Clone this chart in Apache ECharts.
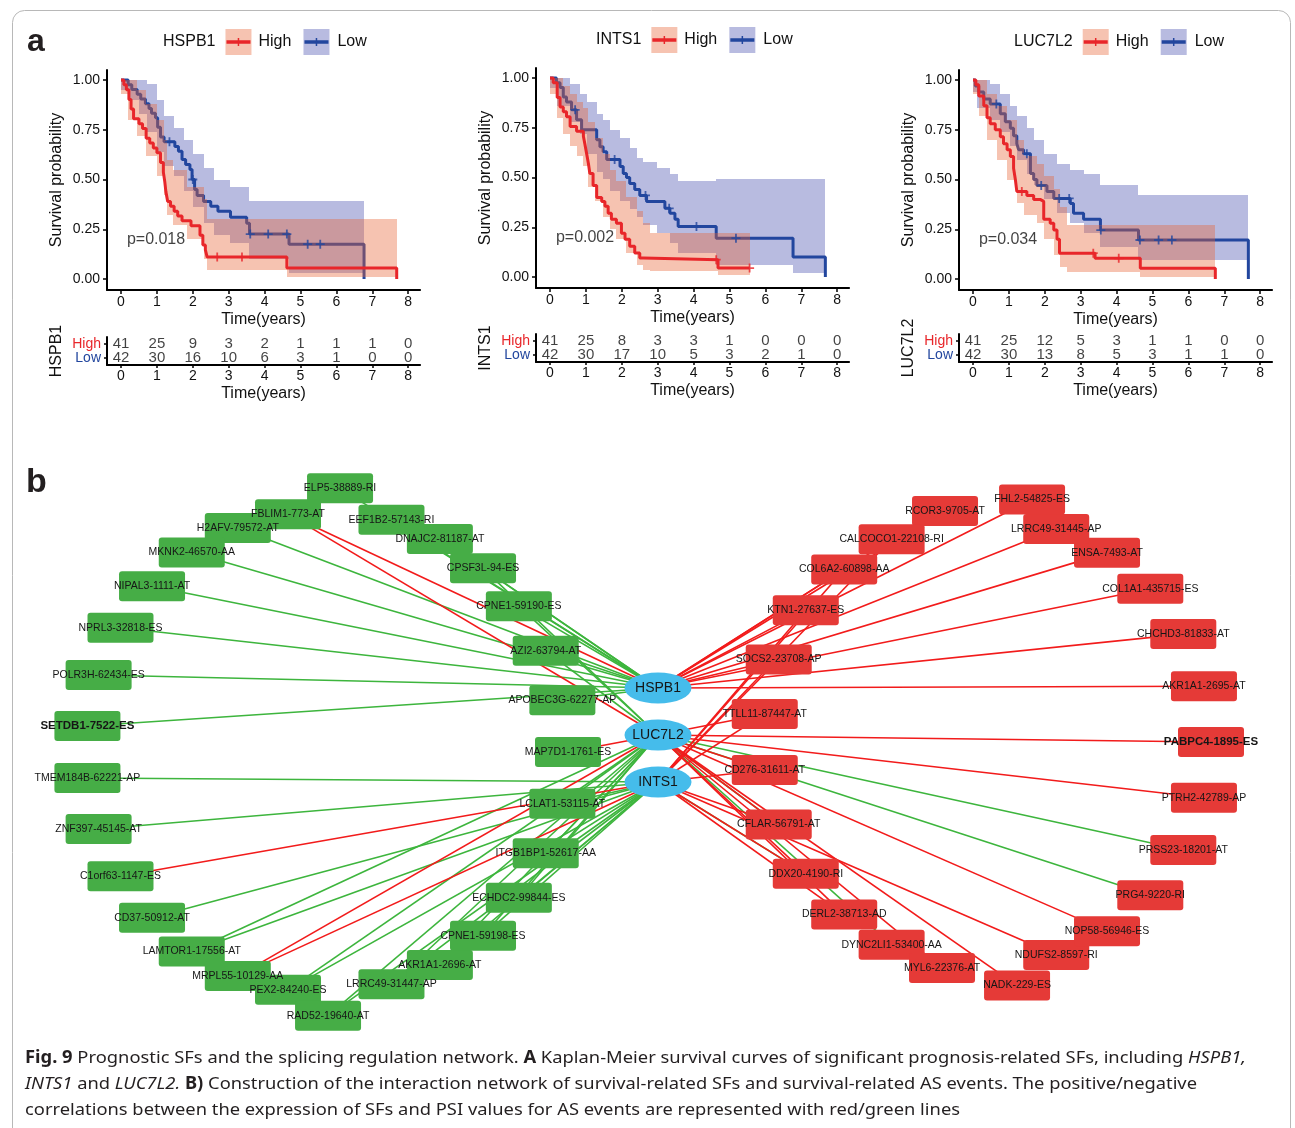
<!DOCTYPE html>
<html><head><meta charset="utf-8">
<script src="https://cdn.jsdelivr.net/npm/echarts@6/dist/echarts.min.js"></script>
<style>html,body{margin:0;padding:0;background:#fff}#c{width:1295px;height:1128px}</style>
</head><body><div id="c"></div>
<script>
// ================= DATA =================
// ---- Panel a : Kaplan-Meier curves ----
const genes = ['HSPB1', 'INTS1', 'LUC7L2'];
const pValues = ['p=0.018', 'p=0.002', 'p=0.034'];
const riskTimes = [0, 1, 2, 3, 4, 5, 6, 7, 8];
const survTicks = [0, 0.25, 0.5, 0.75, 1];

const hspb1RiskHigh = [41, 25, 9, 3, 2, 1, 1, 1, 0];
const hspb1RiskLow = [42, 30, 16, 10, 6, 3, 1, 0, 0];
const ints1RiskHigh = [41, 25, 8, 3, 3, 1, 0, 0, 0];
const ints1RiskLow = [42, 30, 17, 10, 5, 3, 2, 1, 0];
const luc7l2RiskHigh = [41, 25, 12, 5, 3, 1, 1, 0, 0];
const luc7l2RiskLow = [42, 30, 13, 8, 5, 3, 1, 1, 0];

// step curves: event times and survival after each time
const hspb1HighT = [0, 0.08, 0.15, 0.22, 0.28, 0.35, 0.5, 0.6, 0.7, 0.8, 0.9, 1.0, 1.1, 1.18, 1.22, 1.25, 1.3, 1.38, 1.48, 1.58, 1.7, 1.95, 2.2, 2.28, 2.35, 2.4, 4.62, 7.68];
const hspb1HighS = [1, 0.976, 0.951, 0.902, 0.854, 0.805, 0.78, 0.756, 0.707, 0.683, 0.658, 0.634, 0.585, 0.537, 0.488, 0.439, 0.39, 0.366, 0.341, 0.317, 0.293, 0.268, 0.22, 0.171, 0.146, 0.11, 0.055, 0];
const hspb1LowT = [0, 0.2, 0.3, 0.45, 0.55, 0.68, 0.78, 0.85, 0.96, 1.02, 1.1, 1.2, 1.5, 1.6, 1.7, 1.8, 1.92, 1.98, 2.05, 2.12, 2.3, 2.5, 2.7, 3.05, 3.5, 3.58, 4.68, 6.77];
const hspb1LowS = [1, 0.976, 0.952, 0.929, 0.905, 0.881, 0.857, 0.833, 0.81, 0.762, 0.714, 0.69, 0.666, 0.642, 0.6, 0.575, 0.55, 0.5, 0.45, 0.42, 0.39, 0.365, 0.34, 0.31, 0.28, 0.226, 0.175, 0];
const hspb1HighCensor = [2.68, 3.37];
const hspb1LowCensor = [1.35, 2.0, 3.6, 4.1, 4.62, 5.2, 5.55];

const ints1HighT = [0, 0.09, 0.2, 0.28, 0.37, 0.46, 0.56, 0.74, 0.93, 0.97, 1.02, 1.07, 1.11, 1.2, 1.3, 1.44, 1.53, 1.62, 1.71, 1.85, 1.99, 2.09, 2.22, 2.36, 2.5, 2.6, 4.68, 5.56];
const ints1HighS = [1, 0.976, 0.902, 0.854, 0.83, 0.805, 0.756, 0.732, 0.707, 0.67, 0.62, 0.57, 0.52, 0.46, 0.4, 0.38, 0.355, 0.32, 0.29, 0.27, 0.22, 0.19, 0.155, 0.12, 0.095, 0.087, 0.045, 0.045];
const ints1LowT = [0, 0.18, 0.28, 0.37, 0.46, 0.6, 0.74, 0.88, 1.3, 1.39, 1.48, 1.58, 1.95, 2.04, 2.13, 2.22, 2.36, 2.5, 2.69, 3.2, 3.34, 3.48, 3.57, 4.63, 6.77, 7.67];
const ints1LowS = [1, 0.976, 0.952, 0.905, 0.88, 0.84, 0.79, 0.74, 0.69, 0.655, 0.63, 0.59, 0.555, 0.52, 0.5, 0.47, 0.44, 0.41, 0.38, 0.345, 0.32, 0.29, 0.254, 0.195, 0.1, 0];
const ints1HighCensor = [4.63, 5.56];
const ints1LowCensor = [0.7, 1.8, 2.66, 3.32, 4.08, 5.18];

const luc7l2HighT = [0, 0.08, 0.16, 0.3, 0.39, 0.48, 0.62, 0.76, 0.85, 0.95, 1.04, 1.13, 1.18, 1.22, 1.5, 1.69, 1.87, 1.97, 2.15, 2.25, 2.34, 2.41, 3.4, 4.66, 6.75];
const luc7l2HighS = [1, 0.976, 0.92, 0.87, 0.81, 0.78, 0.75, 0.715, 0.68, 0.65, 0.615, 0.556, 0.5, 0.44, 0.42, 0.4, 0.39, 0.3, 0.28, 0.246, 0.2, 0.13, 0.104, 0.054, 0];
const luc7l2LowT = [0, 0.065, 0.16, 0.3, 0.48, 0.76, 0.9, 1.04, 1.13, 1.22, 1.27, 1.41, 1.6, 1.69, 1.78, 2.06, 2.25, 2.71, 2.8, 3.08, 3.55, 4.61, 7.67];
const luc7l2LowS = [1, 0.97, 0.94, 0.905, 0.88, 0.83, 0.79, 0.757, 0.72, 0.68, 0.65, 0.63, 0.53, 0.5, 0.47, 0.44, 0.405, 0.38, 0.33, 0.3, 0.246, 0.196, 0];
const luc7l2HighCensor = [1.36, 3.35, 4.06];
const luc7l2LowCensor = [0.65, 1.5, 1.9, 2.4, 2.68, 3.56, 4.65, 5.17, 5.54];

// confidence bands: interval bounds T, and lower/upper value on each interval
const hspb1HighBandT = [0, 0.2, 0.45, 0.7, 1.0, 1.2, 1.28, 1.45, 1.85, 2.3, 2.4, 4.62, 7.68];
const hspb1HighBandLo = [0.93, 0.8, 0.72, 0.62, 0.52, 0.42, 0.32, 0.27, 0.2, 0.1, 0.045, 0.01];
const hspb1HighBandHi = [1, 1, 0.95, 0.88, 0.8, 0.7, 0.6, 0.55, 0.46, 0.4, 0.3, 0.3];
const hspb1LowBandT = [0, 0.25, 0.5, 0.72, 1.0, 1.2, 1.47, 1.75, 2.0, 2.3, 2.6, 3.05, 3.56, 4.68, 6.77];
const hspb1LowBandLo = [0.95, 0.9, 0.83, 0.74, 0.64, 0.57, 0.52, 0.44, 0.36, 0.28, 0.22, 0.18, 0.1, 0.03];
const hspb1LowBandHi = [1, 1, 1, 0.98, 0.9, 0.82, 0.76, 0.7, 0.63, 0.56, 0.5, 0.46, 0.39, 0.39];

const ints1HighBandT = [0, 0.2, 0.37, 0.56, 0.74, 0.93, 1.05, 1.25, 1.48, 1.67, 1.85, 2.13, 2.41, 2.6, 2.78, 4.68, 5.56];
const ints1HighBandLo = [0.92, 0.8, 0.72, 0.66, 0.61, 0.56, 0.45, 0.38, 0.3, 0.24, 0.19, 0.12, 0.06, 0.035, 0.03, 0.012];
const ints1HighBandHi = [1, 1, 0.96, 0.92, 0.88, 0.85, 0.78, 0.7, 0.62, 0.54, 0.48, 0.4, 0.33, 0.27, 0.22, 0.22];
const ints1LowBandT = [0, 0.19, 0.56, 0.83, 1.02, 1.3, 1.48, 1.67, 1.95, 2.22, 2.41, 2.6, 2.97, 3.34, 3.57, 4.63, 6.77, 7.67];
const ints1LowBandLo = [0.95, 0.86, 0.78, 0.72, 0.62, 0.53, 0.49, 0.43, 0.38, 0.34, 0.3, 0.26, 0.22, 0.17, 0.12, 0.06, 0.02];
const ints1LowBandHi = [1, 1, 0.97, 0.92, 0.88, 0.82, 0.79, 0.74, 0.7, 0.65, 0.6, 0.58, 0.55, 0.52, 0.48, 0.49, 0.49];

const luc7l2HighBandT = [0, 0.16, 0.39, 0.67, 0.95, 1.23, 1.41, 1.78, 1.97, 2.25, 2.43, 2.62, 4.66, 6.75];
const luc7l2HighBandLo = [0.93, 0.82, 0.7, 0.6, 0.5, 0.38, 0.32, 0.28, 0.2, 0.12, 0.06, 0.035, 0.01];
const luc7l2HighBandHi = [1, 1, 0.93, 0.87, 0.8, 0.7, 0.62, 0.58, 0.52, 0.45, 0.36, 0.27, 0.27];
const luc7l2LowBandT = [0, 0.11, 0.48, 0.76, 1.04, 1.23, 1.5, 1.69, 1.97, 2.34, 2.71, 3.08, 3.55, 4.61, 7.67];
const luc7l2LowBandLo = [0.94, 0.86, 0.8, 0.74, 0.67, 0.6, 0.53, 0.47, 0.4, 0.33, 0.28, 0.23, 0.16, 0.095];
const luc7l2LowBandHi = [1, 1, 0.98, 0.93, 0.87, 0.82, 0.76, 0.7, 0.63, 0.58, 0.55, 0.53, 0.47, 0.42];

// ---- Panel b : splicing regulation network ----
const hubNodes = ['HSPB1', 'LUC7L2', 'INTS1'];
const negEvents = ['MAP7D1-1761-ES', 'APOBEC3G-62277-AP', 'AZI2-63794-AT', 'CPNE1-59190-ES', 'CPSF3L-94-ES', 'DNAJC2-81187-AT', 'EEF1B2-57143-RI', 'ELP5-38889-RI', 'FBLIM1-773-AT', 'H2AFV-79572-AT', 'MKNK2-46570-AA', 'NIPAL3-1111-AT', 'NPRL3-32818-ES', 'POLR3H-62434-ES', 'SETDB1-7522-ES', 'TMEM184B-62221-AP', 'ZNF397-45145-AT', 'C1orf63-1147-ES', 'CD37-50912-AT', 'LAMTOR1-17556-AT', 'MRPL55-10129-AA', 'PEX2-84240-ES', 'RAD52-19640-AT', 'LRRC49-31447-AP', 'AKR1A1-2696-AT', 'CPNE1-59198-ES', 'ECHDC2-99844-ES', 'ITGB1BP1-52617-AA', 'LCLAT1-53115-AT'];
const posEvents = ['PABPC4-1895-ES', 'AKR1A1-2695-AT', 'CHCHD3-81833-AT', 'COL1A1-435715-ES', 'ENSA-7493-AT', 'LRRC49-31445-AP', 'FHL2-54825-ES', 'RCOR3-9705-AT', 'CALCOCO1-22108-RI', 'COL6A2-60898-AA', 'KTN1-27637-ES', 'SOCS2-23708-AP', 'TTLL11-87447-AT', 'CD276-31611-AT', 'CFLAR-56791-AT', 'DDX20-4190-RI', 'DERL2-38713-AD', 'DYNC2LI1-53400-AA', 'MYL6-22376-AT', 'NADK-229-ES', 'NDUFS2-8597-RI', 'NOP58-56946-ES', 'PRG4-9220-RI', 'PRSS23-18201-AT', 'PTRH2-42789-AP'];
const boldEvents = ['SETDB1-7522-ES', 'PABPC4-1895-ES'];

const negLinks = [
  ['HSPB1', 'ELP5-38889-RI'], ['HSPB1', 'EEF1B2-57143-RI'], ['HSPB1', 'DNAJC2-81187-AT'], ['HSPB1', 'CPSF3L-94-ES'], ['HSPB1', 'CPNE1-59190-ES'], ['HSPB1', 'AZI2-63794-AT'], ['HSPB1', 'APOBEC3G-62277-AP'], ['HSPB1', 'H2AFV-79572-AT'], ['HSPB1', 'MKNK2-46570-AA'], ['HSPB1', 'NIPAL3-1111-AT'], ['HSPB1', 'NPRL3-32818-ES'], ['HSPB1', 'POLR3H-62434-ES'], ['HSPB1', 'SETDB1-7522-ES'],
  ['LUC7L2', 'CPSF3L-94-ES'], ['LUC7L2', 'CPNE1-59190-ES'], ['LUC7L2', 'AZI2-63794-AT'], ['LUC7L2', 'LAMTOR1-17556-AT'], ['LUC7L2', 'PEX2-84240-ES'], ['LUC7L2', 'RAD52-19640-AT'], ['LUC7L2', 'LRRC49-31447-AP'], ['LUC7L2', 'AKR1A1-2696-AT'], ['LUC7L2', 'CPNE1-59198-ES'], ['LUC7L2', 'ECHDC2-99844-ES'], ['LUC7L2', 'ITGB1BP1-52617-AA'], ['LUC7L2', 'LCLAT1-53115-AT'], ['LUC7L2', 'PRSS23-18201-AT'], ['LUC7L2', 'PRG4-9220-RI'], ['LUC7L2', 'DYNC2LI1-53400-AA'], ['LUC7L2', 'CFLAR-56791-AT'],
  ['INTS1', 'TMEM184B-62221-AP'], ['INTS1', 'ZNF397-45145-AT'], ['INTS1', 'CD37-50912-AT'], ['INTS1', 'LAMTOR1-17556-AT'], ['INTS1', 'PEX2-84240-ES'], ['INTS1', 'RAD52-19640-AT'], ['INTS1', 'LRRC49-31447-AP'], ['INTS1', 'AKR1A1-2696-AT'], ['INTS1', 'CPNE1-59198-ES'], ['INTS1', 'ECHDC2-99844-ES'], ['INTS1', 'ITGB1BP1-52617-AA'], ['INTS1', 'LCLAT1-53115-AT'], ['INTS1', 'DDX20-4190-RI']
];
const posLinks = [
  ['HSPB1', 'FBLIM1-773-AT'], ['HSPB1', 'RCOR3-9705-AT'], ['HSPB1', 'CALCOCO1-22108-RI'], ['HSPB1', 'COL6A2-60898-AA'], ['HSPB1', 'KTN1-27637-ES'], ['HSPB1', 'SOCS2-23708-AP'], ['HSPB1', 'FHL2-54825-ES'], ['HSPB1', 'LRRC49-31445-AP'], ['HSPB1', 'ENSA-7493-AT'], ['HSPB1', 'COL1A1-435715-ES'], ['HSPB1', 'CHCHD3-81833-AT'], ['HSPB1', 'AKR1A1-2695-AT'],
  ['LUC7L2', 'FBLIM1-773-AT'], ['LUC7L2', 'MAP7D1-1761-ES'], ['LUC7L2', 'MRPL55-10129-AA'], ['LUC7L2', 'PABPC4-1895-ES'], ['LUC7L2', 'PTRH2-42789-AP'], ['LUC7L2', 'NOP58-56946-ES'], ['LUC7L2', 'NADK-229-ES'], ['LUC7L2', 'CFLAR-56791-AT'], ['LUC7L2', 'DDX20-4190-RI'], ['LUC7L2', 'DERL2-38713-AD'], ['LUC7L2', 'MYL6-22376-AT'], ['LUC7L2', 'CD276-31611-AT'], ['LUC7L2', 'TTLL11-87447-AT'],
  ['INTS1', 'C1orf63-1147-ES'], ['INTS1', 'MRPL55-10129-AA'], ['INTS1', 'KTN1-27637-ES'], ['INTS1', 'COL6A2-60898-AA'], ['INTS1', 'SOCS2-23708-AP'], ['INTS1', 'TTLL11-87447-AT'], ['INTS1', 'NDUFS2-8597-RI'], ['INTS1', 'CD276-31611-AT'], ['INTS1', 'CFLAR-56791-AT'], ['INTS1', 'DDX20-4190-RI'], ['INTS1', 'DERL2-38713-AD'], ['INTS1', 'CALCOCO1-22108-RI']
];

// ---- Caption ----
const captionLines = [
  [['b', 'Fig. 9'], ['n', ' Prognostic SFs and the splicing regulation network. '], ['b', 'A'], ['n', ' Kaplan-Meier survival curves of significant prognosis-related SFs, including '], ['i', 'HSPB1,']],
  [['i', 'INTS1'], ['n', ' and '], ['i', 'LUC7L2.'], ['n', ' '], ['b', 'B)'], ['n', ' Construction of the interaction network of survival-related SFs and survival-related AS events. The positive/negative']],
  [['n', 'correlations between the expression of SFs and PSI values for AS events are represented with red/green lines']]
];

// ================= STYLE / LAYOUT =================
const FONT = "'Liberation Sans', Arial, Helvetica, sans-serif";
const CAP_FONT = "'Noto Sans', 'Open Sans', sans-serif";
const RED = '#e8262a';
const BLUE = '#22469e';
const HIGH_FILL = 'rgba(232,96,50,0.38)';
const LOW_FILL = 'rgba(40,50,160,0.33)';
const TXT = '#111';
const PXY = 35.9, PXS = 199;
const panelX0 = [121, 550, 973];
const panelY1 = [80, 78, 80];
const tableAxisY = [365, 362, 362];
const legendLeft = [163, 596, 1014];
const legendY = [42, 40, 42];
const captionY = [1058, 1084, 1110];
const captionRight = [1246, 1197, 960];
const PLUS = 'path://M4,0H6V4H10V6H6V10H4V6H0V4H4Z';
const ELLIPSE = 'path://M0,15A33,15 0 1,1 66,15A33,15 0 1,1 0,15Z';
const BOX = 'path://M3,0H63Q66,0 66,3V27Q66,30 63,30H3Q0,30 0,27V3Q0,0 3,0Z';
// circular layout of the two event rings (centre, radius) plus small manual nudges of crowded nodes
const LEFT_RING = {c: [327, 752], r: 241};
const RIGHT_RING = {c: [987, 742], r: 224};
const HUB_POS = {x: 658, y0: 688, dy: 47};
const nodeNudge = {'ELP5-38889-RI': [0, -23], 'RAD52-19640-AT': [-12, 23], 'FHL2-54825-ES': [31, -19],
                   'NADK-229-ES': [16, 20], 'RCOR3-9705-AT': [0, -11], 'MYL6-22376-AT': [-3, 6]};

const km = [
  {hT: hspb1HighT, hS: hspb1HighS, lT: hspb1LowT, lS: hspb1LowS, hC: hspb1HighCensor, lC: hspb1LowCensor,
   hbT: hspb1HighBandT, hbLo: hspb1HighBandLo, hbHi: hspb1HighBandHi, lbT: hspb1LowBandT, lbLo: hspb1LowBandLo, lbHi: hspb1LowBandHi,
   rH: hspb1RiskHigh, rL: hspb1RiskLow},
  {hT: ints1HighT, hS: ints1HighS, lT: ints1LowT, lS: ints1LowS, hC: ints1HighCensor, lC: ints1LowCensor,
   hbT: ints1HighBandT, hbLo: ints1HighBandLo, hbHi: ints1HighBandHi, lbT: ints1LowBandT, lbLo: ints1LowBandLo, lbHi: ints1LowBandHi,
   rH: ints1RiskHigh, rL: ints1RiskLow},
  {hT: luc7l2HighT, hS: luc7l2HighS, lT: luc7l2LowT, lS: luc7l2LowS, hC: luc7l2HighCensor, lC: luc7l2LowCensor,
   hbT: luc7l2HighBandT, hbLo: luc7l2HighBandLo, hbHi: luc7l2HighBandHi, lbT: luc7l2LowBandT, lbLo: luc7l2LowBandLo, lbHi: luc7l2LowBandHi,
   rH: luc7l2RiskHigh, rL: luc7l2RiskLow}
];

// ================= HELPERS =================
const mctx = document.createElement('canvas').getContext('2d');
function textW(str, font) { mctx.font = font; return mctx.measureText(str).width; }
function stepAt(T, S, t) { let v = S[0]; for (let i = 0; i < T.length; i++) if (T[i] <= t) v = S[i]; return v; }
function pairs(T, S) { return T.map((t, i) => [t, S[i]]); }
function intervals(T, Lo, Hi) { return Lo.map((l, i) => [T[i], T[i + 1], l, Hi[i]]); }
function bandRenderer(fill) {
  return function (params, api) {
    const p0 = api.coord([api.value(0), api.value(3)]);
    const p1 = api.coord([api.value(1), api.value(2)]);
    const x0 = Math.round(p0[0]), x1 = Math.round(p1[0]);
    const y0 = Math.round(p0[1]), y1 = Math.round(p1[1]);
    return {type: 'rect', shape: {x: x0, y: y0, width: x1 - x0, height: y1 - y0}, style: {fill: fill}};
  };
}
// evenly spaced positions on a circle, starting at its rightmost point, counter-clockwise
function ringPos(names, ring) {
  return names.map((nm, k) => {
    const a = k * 2 * Math.PI / names.length;
    const nud = nodeNudge[nm] || [0, 0];
    return [ring.c[0] + ring.r * Math.cos(a) + nud[0], ring.c[1] - ring.r * Math.sin(a) + nud[1]];
  });
}
const axisLineStyle = {show: true, onZero: false, lineStyle: {color: '#000', width: 2}};
const tickStyle = {color: '#000', width: 1.5};
const nameStyle = {fontSize: 16, color: TXT, fontFamily: FONT};

// ================= BUILD =================
const grid = [], xAxis = [], yAxis = [], series = [], graphic = [];

for (let i = 0; i < 3; i++) {
  const x0 = panelX0[i], y1 = panelY1[i];
  grid.push({left: x0 - 0.39 * PXY, top: y1 - 0.0503 * PXS, width: 8.72 * PXY, height: 1.1056 * PXS});
  xAxis.push({gridIndex: i, type: 'value', min: -0.39, max: 8.33,
    axisLine: axisLineStyle, splitLine: {show: false},
    axisTick: {show: true, customValues: riskTimes, length: 4, lineStyle: tickStyle},
    axisLabel: {customValues: riskTimes, margin: 5, fontSize: 14, color: TXT, fontFamily: FONT},
    name: 'Time(years)', nameLocation: 'middle', nameGap: 22, nameTextStyle: nameStyle});
  yAxis.push({gridIndex: i, type: 'value', min: -0.0553, max: 1.0503,
    axisLine: axisLineStyle, splitLine: {show: false},
    axisTick: {show: true, customValues: survTicks, length: 4, lineStyle: tickStyle},
    axisLabel: {customValues: survTicks, formatter: v => Number(v).toFixed(2), margin: 7, fontSize: 14, color: TXT, fontFamily: FONT},
    name: 'Survival probability', nameLocation: 'middle', nameGap: 42, nameTextStyle: nameStyle});
}
for (let i = 0; i < 3; i++) {
  const x0 = panelX0[i];
  grid.push({left: x0 - 0.39 * PXY, top: tableAxisY[i] - 28, width: 8.72 * PXY, height: 28});
  xAxis.push({gridIndex: 3 + i, type: 'value', min: -0.39, max: 8.33,
    axisLine: axisLineStyle, splitLine: {show: false},
    axisTick: {show: true, customValues: riskTimes, length: 3, lineStyle: tickStyle},
    axisLabel: {customValues: riskTimes, margin: 4, fontSize: 14, color: TXT, fontFamily: FONT},
    name: 'Time(years)', nameLocation: 'middle', nameGap: 21, nameTextStyle: nameStyle});
  yAxis.push({gridIndex: 3 + i, type: 'category', data: ['Low', 'High'],
    axisLine: {show: true, onZero: false, lineStyle: {color: '#000', width: 2}},
    axisTick: {show: true, alignWithLabel: true, interval: 0, length: 3, lineStyle: tickStyle},
    axisLabel: {interval: 0, hideOverlap: false, margin: 6, formatter: v => '{' + v + '|' + v + '}',
      rich: {High: {color: RED, fontSize: 14, fontFamily: FONT}, Low: {color: BLUE, fontSize: 14, fontFamily: FONT}}},
    name: genes[i], nameLocation: 'middle', nameGap: 42, nameTextStyle: nameStyle});
}
// network coordinate grid (pixel-like units)
grid.push({left: 0, top: 0, width: 1295, height: 1128});
xAxis.push({gridIndex: 6, type: 'value', min: 0, max: 1295, show: false});
yAxis.push({gridIndex: 6, type: 'value', min: 0, max: 1128, inverse: true, show: false});

// KM series
for (let i = 0; i < 3; i++) {
  const d = km[i];
  series.push({type: 'custom', xAxisIndex: i, yAxisIndex: i, z: 1, silent: true,
    renderItem: bandRenderer(LOW_FILL), encode: {x: [0, 1], y: [2, 3]}, data: intervals(d.lbT, d.lbLo, d.lbHi)});
  series.push({type: 'line', xAxisIndex: i, yAxisIndex: i, z: 2, silent: true, step: 'end', symbol: 'none',
    lineStyle: {color: BLUE, width: 3}, data: pairs(d.lT, d.lS)});
  series.push({type: 'custom', xAxisIndex: i, yAxisIndex: i, z: 3, silent: true,
    renderItem: bandRenderer(HIGH_FILL), encode: {x: [0, 1], y: [2, 3]}, data: intervals(d.hbT, d.hbLo, d.hbHi)});
  series.push({type: 'line', xAxisIndex: i, yAxisIndex: i, z: 4, silent: true, step: 'end', symbol: 'none',
    lineStyle: {color: RED, width: 3}, data: pairs(d.hT, d.hS)});
  series.push({type: 'scatter', xAxisIndex: i, yAxisIndex: i, z: 5, silent: true, symbol: PLUS, symbolSize: 9,
    itemStyle: {color: BLUE}, data: d.lC.map(t => [t, stepAt(d.lT, d.lS, t)])});
  series.push({type: 'scatter', xAxisIndex: i, yAxisIndex: i, z: 5, silent: true, symbol: PLUS, symbolSize: 9,
    itemStyle: {color: RED}, data: d.hC.map(t => [t, stepAt(d.hT, d.hS, t)])});
  series.push({type: 'scatter', xAxisIndex: i, yAxisIndex: i, z: 6, silent: true, symbolSize: 1,
    itemStyle: {color: 'rgba(0,0,0,0)'},
    label: {show: true, position: 'right', distance: 0, formatter: pValues[i], fontSize: 16, color: TXT, fontFamily: FONT},
    data: [[0.15, 0.196]]});
  // risk table
  const riskData = [];
  riskTimes.forEach((t, k) => { riskData.push([t, 1, d.rH[k]]); riskData.push([t, 0, d.rL[k]]); });
  series.push({type: 'scatter', xAxisIndex: 3 + i, yAxisIndex: 3 + i, silent: true, symbolSize: 1,
    itemStyle: {color: 'rgba(0,0,0,0)'},
    label: {show: true, position: 'inside', formatter: p => String(p.value[2]), fontSize: 15, color: TXT, fontFamily: FONT},
    data: riskData});
}

// Network
const leftPos = ringPos(negEvents, LEFT_RING);
const rightPos = ringPos(posEvents, RIGHT_RING);
const nodes = [], nodeIndex = {};
function addNode(name, pos, color, isHub) {
  nodeIndex[name] = nodes.length;
  const bold = boldEvents.indexOf(name) >= 0;
  nodes.push({name: name, value: pos,
    symbol: isHub ? ELLIPSE : BOX, symbolSize: isHub ? [67, 31] : [66, 30],
    itemStyle: {color: color},
    label: {show: true, position: 'inside', color: '#161616', fontFamily: FONT,
      fontSize: isHub ? 14 : (bold ? 11.5 : 10.5), fontWeight: bold ? 'bold' : 'normal'}});
}
negEvents.forEach((n, k) => addNode(n, leftPos[k], '#46ad46', false));
posEvents.forEach((n, k) => addNode(n, rightPos[k], '#e53a37', false));
hubNodes.forEach((n, k) => addNode(n, [HUB_POS.x, HUB_POS.y0 + HUB_POS.dy * k], '#45bceb', true));
const links = [];
negLinks.forEach(l => links.push({source: nodeIndex[l[0]], target: nodeIndex[l[1]], lineStyle: {color: '#3db53d'}}));
posLinks.forEach(l => links.push({source: nodeIndex[l[0]], target: nodeIndex[l[1]], lineStyle: {color: '#f21b1b'}}));
series.push({type: 'graph', coordinateSystem: 'cartesian2d', xAxisIndex: 6, yAxisIndex: 6, layout: 'none',
  silent: true, roam: false, z: 3, data: nodes, links: links,
  lineStyle: {width: 1.6, opacity: 1, curveness: 0}, label: {show: true}});

// ================= GRAPHICS (legends, panel letters, caption, frame) =================
graphic.push({type: 'rect', z: -10, shape: {x: 12.5, y: 10.5, width: 1278, height: 1140, r: 12},
  style: {fill: 'none', stroke: '#b8b8b8', lineWidth: 1}});
graphic.push({type: 'text', x: 27, y: 42, style: {text: 'a', font: "bold 32px 'Liberation Sans', Arial, sans-serif", fill: '#231f20', verticalAlign: 'middle'}});
graphic.push({type: 'text', x: 26, y: 483, style: {text: 'b', font: "bold 34px 'Liberation Sans', Arial, sans-serif", fill: '#231f20', verticalAlign: 'middle'}});

function legendKey(x, y, fill, stroke) {
  return [
    {type: 'rect', shape: {x: x, y: y - 13, width: 26, height: 26}, style: {fill: fill}},
    {type: 'line', shape: {x1: x + 1, y1: y, x2: x + 25, y2: y}, style: {stroke: stroke, lineWidth: 3.5}},
    {type: 'line', shape: {x1: x + 13, y1: y - 4, x2: x + 13, y2: y + 4}, style: {stroke: stroke, lineWidth: 1.5}}
  ];
}
for (let i = 0; i < 3; i++) {
  const L = legendLeft[i], y = legendY[i];
  const tw = textW(genes[i], '16px ' + FONT);
  const k1 = L + tw + 10, k2 = k1 + 78;
  graphic.push({type: 'text', x: L, y: y, style: {text: genes[i], font: '16px ' + FONT, fill: TXT, verticalAlign: 'middle'}});
  legendKey(k1, y, HIGH_FILL, RED).forEach(e => graphic.push(e));
  legendKey(k2, y, LOW_FILL, BLUE).forEach(e => graphic.push(e));
  graphic.push({type: 'text', x: k1 + 33, y: y, style: {text: 'High', font: '16px ' + FONT, fill: TXT, verticalAlign: 'middle'}});
  graphic.push({type: 'text', x: k2 + 34, y: y, style: {text: 'Low', font: '16px ' + FONT, fill: TXT, verticalAlign: 'middle'}});
}

const CAP_SIZE = 17;
function capFont(st) { return (st === 'i' ? 'italic ' : '') + (st === 'b' ? 'bold ' : '') + CAP_SIZE + 'px ' + CAP_FONT; }
const capRich = {
  n: {fontSize: CAP_SIZE, fontFamily: CAP_FONT, color: '#231f20'},
  b: {fontSize: CAP_SIZE, fontFamily: CAP_FONT, fontWeight: 'bold', color: '#231f20'},
  i: {fontSize: CAP_SIZE, fontFamily: CAP_FONT, fontStyle: 'italic', color: '#231f20'}
};
captionLines.forEach((segs, li) => {
  let w = 0; segs.forEach(s => { w += textW(s[1], capFont(s[0])); });
  const sx = (captionRight[li] - 25) / w;
  graphic.push({type: 'text', x: 25, y: captionY[li], scaleX: sx,
    style: {text: segs.map(s => '{' + s[0] + '|' + s[1] + '}').join(''), rich: capRich,
      fontSize: CAP_SIZE, fontFamily: CAP_FONT, fill: '#231f20', verticalAlign: 'middle'}});
});

const chart = echarts.init(document.getElementById('c'), null, {renderer: 'canvas', width: 1295, height: 1128});
chart.setOption({animation: false, backgroundColor: '#fff', grid, xAxis, yAxis, series, graphic});
</script></body></html>
